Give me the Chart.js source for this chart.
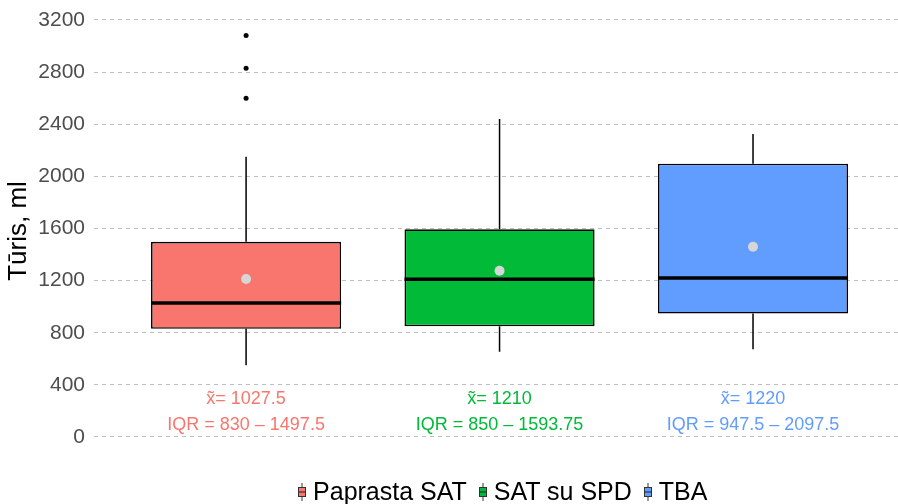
<!DOCTYPE html>
<html>
<head>
<meta charset="utf-8">
<script src="https://cdn.jsdelivr.net/npm/chart.js@4.4.1/dist/chart.umd.min.js"></script>
<style>
  html, body { margin: 0; padding: 0; background: #fff; }
  #wrap { position: relative; width: 898px; height: 504px; }
  #legend { position: absolute; top: 479px; height: 25px; display: flex; align-items: center;
            font: 25px/1 "Liberation Sans", Arial, sans-serif; color: #000; white-space: nowrap; }
  #legend .item { display: flex; align-items: center; margin-right: 12px; }
  #legend .item:last-child { margin-right: 0; }
  #legend svg { margin-right: 7px; }
</style>
</head>
<body>
<div id="wrap">
  <canvas id="box-chart" width="898" height="504"></canvas>
  <div id="legend"></div>
</div>
<script>
const categories = ['Paprasta SAT', 'SAT su SPD', 'TBA'];
const q1 = [830, 850, 947.5];
const medians = [1027.5, 1210, 1220];
const q3 = [1497.5, 1593.75, 2097.5];
const whiskerLow = [550, 655, 673];
const whiskerHigh = [2150, 2440, 2325];
const means = [1212, 1276, 1460];
const outliers = [[3080, 2830, 2600], [], []];
const yTicks = [0, 400, 800, 1200, 1600, 2000, 2400, 2800, 3200];

const palette = ['#F8766D', '#00BA38', '#619CFF'];
const FONT = '"Liberation Sans", Arial, sans-serif';

// whiskers, median line and the text under each box
const boxParts = {
  id: 'boxParts',
  afterDatasetDraw(chart, args) {
    if (args.index !== 0) return;
    const ctx = chart.ctx;
    const y = chart.scales.y;
    ctx.save();
    ctx.strokeStyle = '#000';
    args.meta.data.forEach((bar, i) => {
      const half = bar.width / 2;
      ctx.lineWidth = 1.5;
      ctx.beginPath();
      ctx.moveTo(bar.x, y.getPixelForValue(q3[i]));
      ctx.lineTo(bar.x, y.getPixelForValue(whiskerHigh[i]));
      ctx.moveTo(bar.x, y.getPixelForValue(q1[i]));
      ctx.lineTo(bar.x, y.getPixelForValue(whiskerLow[i]));
      ctx.stroke();
      const my = y.getPixelForValue(medians[i]);
      ctx.lineWidth = 3.5;
      ctx.beginPath();
      ctx.moveTo(bar.x - half, my);
      ctx.lineTo(bar.x + half, my);
      ctx.stroke();
    });
    ctx.restore();
  },
  afterDraw(chart) {
    const {ctx, scales: {x, y}} = chart;
    ctx.save();
    ctx.font = '18px ' + FONT;
    ctx.textAlign = 'center';
    ctx.textBaseline = 'middle';
    categories.forEach((c, i) => {
      const px = x.getPixelForValue(i + 1);
      ctx.fillStyle = palette[i];
      ctx.fillText('x\u0303= ' + medians[i], px, y.getPixelForValue(292));
      ctx.fillText('IQR = ' + q1[i] + ' \u2013 ' + q3[i], px, y.getPixelForValue(88));
    });
    ctx.restore();
  }
};

const htmlLegend = {
  id: 'htmlLegend',
  afterUpdate(chart) {
    const el = document.getElementById('legend');
    el.innerHTML = '';
    categories.forEach((c, i) => {
      el.innerHTML += `
        <span class="item">
          <svg width="8" height="18" viewBox="0 0 8 18">
            <line x1="4" y1="0" x2="4" y2="18" stroke="#333" stroke-width="1"/>
            <rect x="0.5" y="4.5" width="7" height="9" fill="${palette[i]}" stroke="#333" stroke-width="1"/>
            <line x1="0.5" y1="9" x2="7.5" y2="9" stroke="#333" stroke-width="1.2"/>
          </svg>${c}</span>`;
    });
    const mid = chart.scales.x.getPixelForValue(2) + 3;
    el.style.left = (mid - el.offsetWidth / 2) + 'px';
  }
};

const ctx = document.getElementById('box-chart');
new Chart(ctx, {
  type: 'bar',
  data: {
    datasets: [
      {
        label: 'Box',
        data: categories.map((c, i) => ({x: i + 1, y: [q1[i], q3[i]]})),
        backgroundColor: palette,
        borderColor: '#000',
        borderWidth: 1.6,
        borderSkipped: false,
        barPercentage: 0.75,
        categoryPercentage: 1,
        order: 2
      },
      {
        type: 'scatter',
        label: 'Outliers',
        data: outliers.flatMap((list, i) => list.map(v => ({x: i + 1, y: v}))),
        backgroundColor: '#000',
        borderWidth: 0,
        pointRadius: 2.5,
        order: 1
      },
      {
        type: 'scatter',
        label: 'Mean',
        data: means.map((v, i) => ({x: i + 1, y: v})),
        backgroundColor: '#D6D6D6',
        borderWidth: 0,
        pointRadius: 5,
        order: 0
      }
    ]
  },
  options: {
    responsive: false,
    devicePixelRatio: 1,
    animation: false,
    layout: {
      autoPadding: false,
      padding: {top: 5, right: 0, bottom: 47, left: 0}
    },
    scales: {
      x: {
        type: 'linear',
        display: false,
        offset: false,
        min: 0.4,
        max: 3.572,
        ticks: {display: false},
        afterBuildTicks: function(axis) {
          axis.ticks = categories.map((c, i) => ({value: i + 1}));
        }
      },
      y: {
        min: -153.5,
        max: 3315,
        afterBuildTicks: function(axis) {
          axis.ticks = yTicks.map(v => ({value: v}));
        },
        afterFit: function(axis) {
          axis.width = 94;
          axis.paddingTop = 0;
          axis.paddingBottom = 0;
        },
        border: {
          display: false,
          dash: [4, 4]
        },
        grid: {
          color: '#BEBEBE',
          lineWidth: 1,
          drawTicks: false
        },
        ticks: {
          color: '#4D4D4D',
          padding: 9,
          font: {family: FONT, size: 21},
          callback: function(value) {
            return String(value);
          }
        },
        title: {
          display: true,
          text: 'Tūris, ml',
          color: '#000',
          padding: {top: 3, bottom: 0},
          font: {family: FONT, size: 26}
        }
      }
    },
    plugins: {
      legend: {display: false},
      tooltip: {enabled: false}
    }
  },
  plugins: [boxParts, htmlLegend]
});
</script>
</body>
</html>
